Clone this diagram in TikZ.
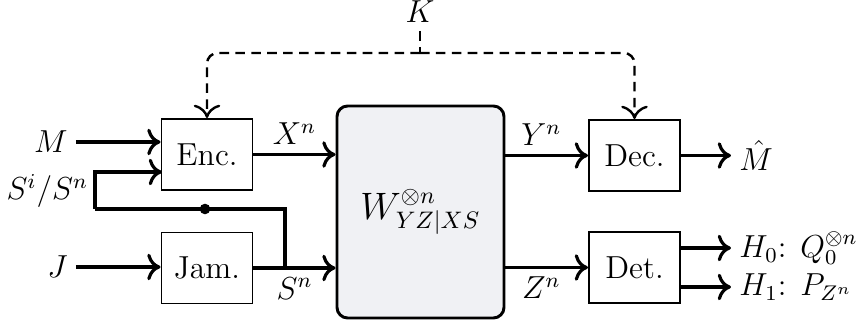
\documentclass[tikz,border=0pt]{standalone}
\usetikzlibrary{arrows.meta}
\definecolor{chanfill}{RGB}{240,241,244}
\begin{document}
\begin{tikzpicture}[x=0.377pt,y=-0.377pt,
  every node/.style={font=\large},
  blk/.style={draw,line width=0.75pt,minimum width=91*0.377pt,minimum height=71*0.377pt,inner sep=0pt},
  arr/.style={line width=1.2pt,-{Computer Modern Rightarrow[length=5pt,width=10pt]}},
  wire/.style={line width=1.2pt},
  dline/.style={line width=0.9pt,dash pattern=on 3.6pt off 2.4pt},
  darr/.style={dline,rounded corners=4pt,-{Computer Modern Rightarrow[length=5pt,width=10pt]}},
  lab/.style={inner sep=3pt}]
\useasboundingbox (0,0) rectangle (856,324);
% blocks
\node[blk] (enc) at (207,154.5) {Enc.};
\node[blk] (jam) at (207,268) {Jam.};
\node[blk] (dec) at (634.5,155.5) {Dec.};
\node[blk] (det) at (634.5,267.5) {Det.};
\node[draw,line width=1.1pt,fill=chanfill,rounded corners=4pt,minimum width=167*0.377pt,minimum height=212*0.377pt,inner sep=0pt,font=\fontsize{13.5}{16}\selectfont] (chan) at (420.5,212) {$W^{\otimes n}_{YZ|XS}$};
% key
\node[inner sep=0pt] (K) at (420,12) {$K$};
\coordinate (kt) at (420,31);
\coordinate (kj) at (420,53);
\draw[dline] (kt) -- (kj);
\draw[darr] (kj) -| (enc.north);
\draw[darr] (kj) -| (dec.north);
% inputs
\node[lab,anchor=east] (M) at (76,142) {$M$};
\node[lab,anchor=east] (J) at (76,267) {$J$};
\node[inner sep=2pt,anchor=east] (S) at (94,191) {$S^i/S^n$};
\draw[arr] (M.east) -- (enc.west |- M.east);
\draw[arr] (J.east) -- (jam.west |- J.east);
% encoder -> channel
\draw[arr] (enc.east) -- node[lab,above] (Xn) {$X^n$} (chan.west |- enc.east);
\draw[arr] (jam.east) -- node[lab,below] (Sn) {$S^n$} (chan.west |- jam.east);
% feedback of state
\coordinate (jn) at (285,268);
\coordinate (fb) at (95,209);
\coordinate (ein) at (162,172);
\draw[wire,line join=miter] (jn) |- (fb);
\draw[arr] (fb) |- (ein);
\fill (205,209) circle (2pt);
% channel -> decoders
\draw[arr] (chan.east |- dec.west) -- node[lab,above,xshift=-2pt] (Yn) {$Y^n$} (dec.west);
\draw[arr] (chan.east |- det.west) -- node[lab,below,xshift=-2pt] (Zn) {$Z^n$} (det.west);
% outputs
\node[lab,anchor=west] (Mh) at (731,155.5) {$\hat{M}$};
\draw[arr] (dec.east) -- (Mh.west);
\node[lab,anchor=west] (H0) at (731,248) {$H_0$: $Q_0^{\otimes n}$};
\node[lab,anchor=west] (H1) at (731,287) {$H_1$: $P_{Z^n}$};
\draw[arr] (det.east |- H0.west) -- (H0.west);
\draw[arr] (det.east |- H1.west) -- (H1.west);
\end{tikzpicture}
\end{document}
